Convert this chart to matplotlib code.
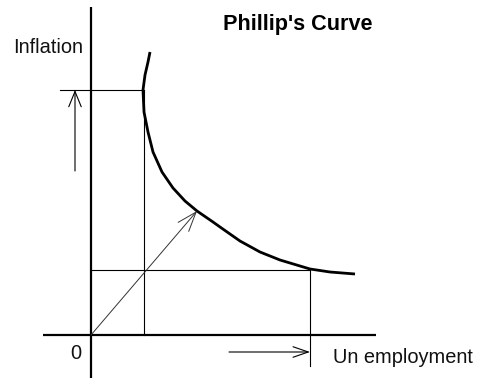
import matplotlib
matplotlib.use("Agg")
import matplotlib.pyplot as plt

# Phillips curve (unemployment, inflation) in chart units, origin at the axes crossing
curve_x = [59, 57, 54, 52, 53, 57, 62, 71, 82, 94, 106, 122, 129, 149, 169, 189, 209, 219, 239, 264]
curve_y = [283, 273, 260, 245, 223, 203, 183, 163, 147, 134, 124, 113, 108, 94, 83, 75, 69, 66, 63, 61]

# two marked points on the curve
high_infl_point = (53, 245)   # low unemployment, high inflation
low_infl_point = (219, 65)    # high unemployment, low inflation
diag_tip = (106, 124)

title = "Phillip's Curve"
ylabel = "Inflation"
xlabel = "Un employment"
origin_label = "0"

plt.rcParams['font.family'] = ['Liberation Sans', 'DejaVu Sans']

fig = plt.figure(figsize=(4.82, 3.79), dpi=100)
ax = fig.add_axes([0, 0, 1, 1])
ax.set_xlim(-91, 391)
ax.set_ylim(-44, 335)
ax.axis('off')

# axes
ax.plot([-48, 285], [0, 0], color='black', lw=1.6, solid_capstyle='butt')
ax.plot([0, 0], [-43, 328], color='black', lw=1.6, solid_capstyle='butt')

# curve
ax.plot(curve_x, curve_y, color='black', lw=2.0, solid_capstyle='butt',
        solid_joinstyle='round')

# guide lines
hx, hy = high_infl_point
lx, ly = low_infl_point
ax.plot([-31, hx], [hy, hy], color='black', lw=0.8)
ax.plot([hx, hx], [0, hy], color='black', lw=0.8)
ax.plot([0, lx], [ly, ly], color='black', lw=0.8)
ax.plot([lx, lx], [-31, ly], color='black', lw=0.8)

# arrows
ax.annotate('', xy=(-16, hy), xytext=(-16, 164),
            arrowprops=dict(arrowstyle='->,head_length=1.1,head_width=0.45',
                            mutation_scale=10, color='black', lw=0.8,
                            shrinkA=0, shrinkB=0))
ax.annotate('', xy=(lx, -17), xytext=(138, -17),
            arrowprops=dict(arrowstyle='->,head_length=1.1,head_width=0.38',
                            mutation_scale=10, color='black', lw=0.8,
                            shrinkA=0, shrinkB=0))
ax.annotate('', xy=diag_tip, xytext=(0, 0),
            arrowprops=dict(arrowstyle='->,head_length=1.4,head_width=0.5',
                            mutation_scale=10, color='#333333', lw=0.7,
                            shrinkA=0, shrinkB=0))

# texts
ax.text(-78, 282, ylabel, fontsize=14.4, ha='left', va='baseline', color='#111111')
ax.text(132, 305, title, fontsize=15.6, fontweight='bold', ha='left', va='baseline', color='black')
ax.text(-15.5, -24, origin_label, fontsize=14.4, ha='center', va='baseline', color='#111111')
ax.text(242, -28, xlabel, fontsize=14.4, ha='left', va='baseline', color='#111111')

fig.savefig('out.png', dpi=100)
